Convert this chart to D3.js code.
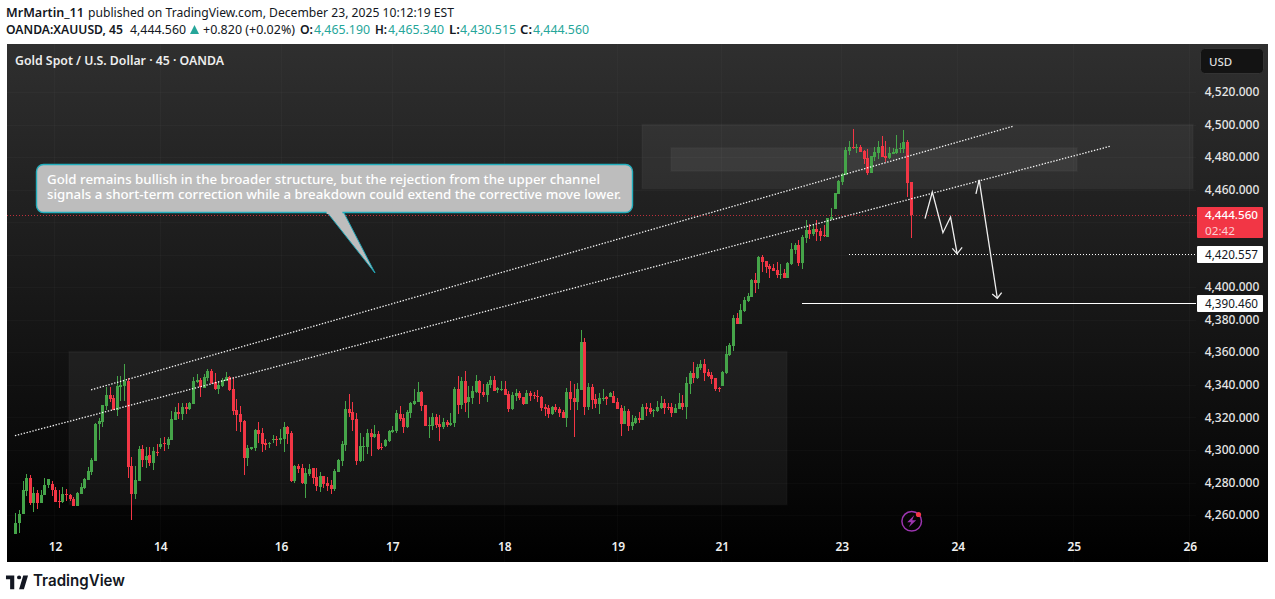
<!DOCTYPE html>
<html><head><meta charset="utf-8">
<script src="https://cdn.jsdelivr.net/npm/d3@7"></script>
<style>html,body{margin:0;padding:0;background:#fff;overflow:hidden}svg{display:block}</style>
</head><body><div id="chart"></div>
<script>
// Candle direction: G = close above open, R = close below open
const directions =
 "GGGGRGRGGG"+"RRRGRRRGGG"+"GGGGGGRRGG"+"GRRGGRGRGR"+"GRGGGRGRGG"+"GRGGRRGGGR"+"RRRRGGGRRR"+"GGRGGRRGRR"+
 "GGRRGRRRGG"+"GGRRRGGGRG"+"RRGGGGRRGG"+"GGRRGGRRGR"+"GGRGRGGGRR"+"GGRGGRRGGR"+"RGRRRRRRGR"+"RRGRRGGRGR"+
 "RGGRGRRRGR"+"GGRGRRGGGR"+"RRGGRGGRGG"+"RRRRRGGGGR"+"GGGGRGRRRR"+"RGRGGGRGGR"+"GRRRGGGGGG"+"GRGRRRGGGR"+"RGGGGGRR";
const bodyTops = [
4255.7,4261.1,4276.0,4283.1,4283.1,4273.9,4273.9,4272.9,4279.1,4282.7,
4279.7,4276.0,4269.2,4273.5,4273.5,4272.9,4270.5,4274.1,4277.8,4282.7,
4287.6,4294.4,4316.5,4318.3,4328.1,4334.3,4334.3,4332.4,4339.8,4340.4,
4342.9,4342.9,4290.7,4282.1,4301.1,4301.1,4296.8,4297.5,4299.9,4299.3,
4304.2,4304.8,4307.3,4319.5,4323.8,4323.8,4326.9,4326.9,4329.4,4342.9,
4343.5,4343.5,4345.3,4349.0,4349.0,4342.2,4340.4,4343.5,4345.3,4345.3,
4337.9,4325.1,4322.6,4318.3,4301.8,4302.4,4312.8,4312.8,4311.0,4304.8,
4304.8,4307.3,4307.3,4307.9,4314.6,4314.6,4311.0,4290.7,4290.7,4289.4,
4286.4,4288.8,4289.4,4283.9,4284.5,4284.5,4280.2,4279.0,4287.6,4294.4,
4304.2,4325.6,4325.6,4323.8,4319.5,4302.9,4302.9,4310.9,4310.9,4310.3,
4310.3,4302.3,4306.6,4312.1,4312.7,4323.2,4322.5,4320.1,4323.8,4329.3,
4330.5,4336.0,4336.0,4328.1,4315.8,4320.7,4320.7,4316.4,4317.6,4317.6,
4317.0,4337.9,4337.9,4342.8,4342.8,4333.0,4336.7,4342.8,4342.8,4336.0,
4340.9,4343.4,4343.4,4338.5,4337.9,4337.9,4334.8,4334.2,4335.4,4335.4,
4333.0,4335.4,4335.4,4334.2,4333.6,4333.0,4326.8,4326.2,4326.8,4326.8,
4325.6,4323.8,4336.0,4336.0,4332.4,4337.9,4366.7,4366.7,4339.1,4339.1,
4331.7,4332.4,4332.4,4333.0,4335.5,4333.7,4330.0,4326.3,4324.5,4324.5,
4317.7,4320.2,4320.2,4326.9,4326.9,4326.3,4325.1,4326.9,4329.4,4329.4,
4326.9,4326.9,4326.3,4329.4,4329.4,4341.6,4347.8,4347.8,4351.4,4353.3,
4353.3,4348.4,4346.5,4344.7,4338.6,4348.4,4359.4,4364.9,4381.5,4381.5,
4386.4,4392.5,4395.0,4404.8,4404.8,4418.9,4418.9,4416.4,4413.4,4412.1,
4410.9,4408.4,4409.0,4415.2,4423.8,4426.2,4426.2,4431.1,4435.4,4435.4,
4436.0,4436.0,4434.8,4432.4,4442.8,4443.4,4458.1,4465.5,4469.8,4484.5,
4486.3,4486.3,4486.3,4486.3,4483.9,4479.6,4480.8,4483.3,4486.3,4487.0,
4480.8,4482.7,4483.3,4485.1,4485.7,4489.4,4489.4,4465.19];
const bodyBottoms = [
4248.4,4255.3,4260.7,4275.4,4267.6,4267.6,4268.0,4268.0,4272.5,4279.1,
4276.0,4268.6,4268.6,4268.6,4272.9,4269.9,4266.2,4266.2,4273.5,4277.2,
4282.1,4287.0,4293.8,4316.3,4317.7,4327.5,4331.8,4325.1,4325.1,4339.2,
4339.8,4290.1,4273.5,4273.5,4281.5,4294.4,4294.4,4292.6,4292.6,4298.7,
4302.4,4304.2,4303.6,4306.7,4319.0,4322.6,4322.6,4325.7,4325.7,4328.8,
4342.2,4338.8,4338.6,4344.7,4341.6,4337.9,4337.9,4339.8,4342.9,4337.3,
4324.5,4322.0,4317.7,4295.6,4295.6,4301.1,4301.8,4310.3,4304.2,4303.6,
4304.2,4306.7,4306.7,4306.7,4307.3,4310.3,4281.5,4281.5,4288.9,4280.2,
4279.6,4285.8,4283.3,4278.4,4277.8,4279.6,4278.4,4276.6,4276.6,4287.0,
4293.7,4303.5,4323.2,4318.9,4293.7,4293.7,4302.3,4302.3,4308.4,4308.4,
4301.1,4301.7,4302.9,4306.0,4311.5,4312.1,4319.5,4314.6,4314.6,4323.2,
4328.7,4329.9,4327.5,4315.2,4315.2,4315.2,4315.8,4314.6,4314.6,4315.8,
4315.8,4317.0,4328.1,4328.1,4329.3,4329.9,4332.4,4336.0,4335.4,4334.2,
4334.2,4340.3,4336.7,4337.3,4337.3,4334.2,4325.6,4325.6,4333.6,4332.4,
4328.7,4328.7,4333.6,4333.6,4333.0,4326.2,4325.6,4322.5,4322.5,4325.0,
4323.2,4320.1,4320.1,4331.7,4329.9,4329.9,4337.3,4326.8,4326.8,4331.1,
4328.7,4328.7,4331.8,4331.8,4333.0,4329.4,4325.7,4316.5,4316.5,4315.3,
4315.3,4317.1,4319.0,4319.0,4325.7,4323.8,4324.5,4324.5,4326.3,4326.3,
4326.3,4323.2,4323.2,4325.7,4326.9,4326.9,4341.0,4344.7,4344.7,4350.8,
4347.8,4345.9,4344.1,4337.9,4337.9,4339.8,4347.8,4358.8,4364.3,4377.8,
4377.8,4385.8,4391.9,4394.4,4402.9,4402.9,4415.8,4412.8,4411.5,4410.3,
4407.9,4407.8,4406.0,4406.0,4414.6,4423.2,4415.2,4415.2,4430.5,4433.0,
4433.0,4434.2,4431.7,4431.7,4431.1,4442.2,4448.3,4457.5,4464.9,4469.2,
4483.9,4485.7,4485.7,4483.3,4479.0,4470.4,4470.4,4480.2,4482.7,4480.2,
4479.6,4479.6,4482.1,4482.7,4485.1,4485.1,4464.3,4444.56];
const highs = [
4261.3,4263.7,4281.5,4285.6,4285.0,4277.8,4276.0,4276.0,4283.3,4282.7,
4281.5,4277.8,4276.0,4277.8,4276.6,4273.3,4271.3,4274.8,4280.3,4283.3,
4290.1,4295.6,4317.1,4320.2,4328.1,4339.2,4339.2,4334.3,4345.9,4345.9,
4353.3,4344.7,4296.2,4290.7,4303.0,4303.6,4302.4,4302.4,4302.4,4304.2,
4307.9,4308.5,4308.5,4324.5,4326.9,4329.4,4329.4,4329.4,4330.0,4345.3,
4347.2,4344.7,4347.2,4350.2,4350.2,4347.8,4342.9,4344.7,4348.4,4345.9,
4345.3,4331.8,4327.5,4318.9,4303.6,4302.4,4313.4,4317.7,4314.0,4307.3,
4305.4,4309.7,4309.1,4313.4,4317.7,4315.3,4312.2,4291.3,4291.9,4291.9,
4289.4,4291.9,4289.4,4289.4,4287.0,4284.5,4283.9,4282.1,4288.8,4295.0,
4306.0,4330.5,4334.8,4329.9,4323.2,4310.9,4308.4,4313.3,4313.3,4315.8,
4312.1,4304.8,4307.2,4312.7,4315.2,4325.0,4327.5,4322.5,4325.0,4329.9,
4337.9,4342.2,4336.7,4328.1,4320.7,4323.2,4322.5,4321.9,4320.1,4318.9,
4323.2,4339.1,4345.9,4345.2,4348.9,4339.7,4339.7,4346.5,4343.4,4340.9,
4342.2,4345.9,4345.9,4339.1,4342.8,4342.8,4336.7,4336.0,4337.9,4336.7,
4333.0,4337.3,4336.7,4336.0,4337.3,4333.6,4328.7,4328.1,4327.5,4328.7,
4326.8,4325.0,4338.5,4342.8,4340.9,4341.6,4374.1,4369.2,4341.6,4340.9,
4334.8,4335.5,4337.9,4333.7,4336.1,4336.7,4332.4,4328.1,4327.5,4325.7,
4322.0,4321.4,4323.8,4328.7,4329.4,4329.4,4325.7,4330.6,4333.7,4331.8,
4329.4,4329.4,4328.8,4335.5,4334.3,4345.3,4349.0,4354.5,4353.3,4355.7,
4356.4,4350.2,4348.4,4344.7,4339.2,4349.0,4364.3,4366.2,4383.3,4384.5,
4390.1,4394.4,4396.8,4405.4,4409.1,4419.5,4420.1,4416.4,4414.6,4414.6,
4415.8,4414.6,4411.5,4415.8,4427.5,4427.5,4429.3,4432.4,4441.6,4439.1,
4439.1,4441.6,4436.7,4438.5,4442.8,4448.9,4458.1,4466.1,4470.4,4486.3,
4490.0,4497.4,4488.2,4487.6,4484.5,4485.1,4480.8,4486.3,4490.0,4493.1,
4490.0,4486.3,4485.7,4493.7,4488.8,4496.8,4490.6,4465.34];
const lows = [
4248.4,4249.6,4260.7,4272.3,4266.8,4262.5,4264.3,4268.0,4272.5,4277.2,
4272.3,4268.6,4264.5,4268.0,4269.2,4268.8,4266.2,4265.6,4273.5,4276.6,
4282.1,4285.2,4293.8,4306.7,4314.6,4325.1,4330.0,4324.7,4321.4,4330.6,
4330.6,4283.3,4257.0,4270.5,4281.5,4290.1,4289.5,4290.7,4288.3,4296.8,
4301.1,4299.9,4301.1,4306.7,4319.0,4319.5,4319.0,4322.6,4325.1,4328.8,
4341.6,4333.0,4338.6,4342.9,4341.0,4337.3,4334.9,4339.2,4342.9,4336.7,
4322.0,4312.2,4311.6,4285.2,4290.7,4300.5,4299.9,4304.8,4299.3,4300.5,
4301.8,4304.8,4303.0,4304.2,4299.3,4304.2,4280.9,4280.3,4286.4,4279.6,
4271.0,4284.5,4279.6,4275.3,4274.7,4277.2,4275.3,4273.5,4275.3,4287.0,
4290.7,4299.8,4320.7,4312.1,4291.3,4293.1,4293.7,4298.0,4296.8,4307.8,
4300.5,4300.5,4302.3,4305.4,4310.9,4310.9,4318.2,4310.9,4314.0,4320.1,
4328.1,4329.9,4324.4,4315.2,4307.8,4312.7,4314.0,4306.0,4313.3,4314.6,
4315.2,4314.6,4322.5,4325.6,4323.8,4320.1,4328.7,4335.4,4328.7,4333.0,
4329.9,4338.5,4336.7,4335.4,4336.7,4334.2,4323.8,4325.0,4330.5,4331.1,
4328.1,4328.7,4330.5,4331.7,4329.9,4324.4,4321.3,4320.1,4321.9,4323.8,
4320.7,4320.1,4314.6,4325.0,4308.4,4325.0,4337.3,4321.9,4325.0,4325.6,
4326.2,4322.6,4330.6,4328.1,4333.0,4329.4,4325.7,4309.1,4316.5,4312.2,
4312.8,4316.5,4317.1,4319.0,4321.4,4322.6,4320.8,4323.8,4325.7,4322.6,
4325.1,4320.8,4323.2,4325.7,4325.1,4319.5,4334.9,4341.6,4344.1,4349.6,
4342.9,4345.3,4341.0,4336.7,4336.1,4339.8,4347.2,4358.2,4361.2,4377.8,
4377.8,4385.2,4391.3,4394.4,4396.8,4399.3,4409.7,4409.1,4406.0,4410.3,
4406.0,4405.4,4406.0,4406.0,4414.0,4420.7,4413.3,4411.5,4427.5,4429.9,
4431.7,4428.7,4428.7,4431.1,4431.1,4441.6,4448.3,4457.5,4463.0,4469.2,
4481.4,4485.1,4482.7,4483.3,4475.9,4469.2,4470.4,4477.8,4479.0,4480.2,
4477.1,4479.0,4482.1,4482.1,4482.7,4482.7,4455.7,4430.515];

const priceTicks = [4260,4280,4300,4320,4340,4360,4380,4400,4460,4480,4500,4520];
const gridPrices = [4260,4280,4300,4320,4340,4360,4380,4400,4420,4440,4460,4480,4500,4520];
const timeTickBars = [10.95,40.0,73.3,104.0,134.9,166.2,194.9,228.0,260.0,292.0,324.0];
const timeTickLabels = ["12","14","16","17","18","19","21","23","24","25","26"];

// Price and bar-index anchors of the drawings
const zoneBars = [[14.8,212.9],[172.9,324.9],[180.9,292.9]];
const zonePrices = [[4360.9,4266.7],[4500.4,4460.9],[4486.1,4471.7]];
const trendBars = [[20.9,275.2],[-0.1,302.0]];
const trendPrices = [[4337.3,4499.3],[4309.1,4487.0]];
const lastPrice = 4444.56, target1 = 4420.557, target2 = 4390.46;
const target1StartBar = 229.9, target2StartBar = 216.9;
const arrow1Bars = [250.95,252.97,255.9,258.0,259.8], arrow1Prices = [4442.5,4458.9,4433.9,4443.5,4421.2];
const arrow1HeadBars = [258.5,259.8,261.2], arrow1HeadPrices = [4424.3,4420.9,4424.9];
const arrow2Bars = [265.0,265.9,270.9], arrow2Prices = [4457.7,4466.3,4393.6];
const arrow2HeadBars = [269.5,270.9,272.1], arrow2HeadPrices = [4396.2,4393.6,4397.0];

const W=1275,H=599;
const panel={l:7,t:44,r:1268,b:562}, plotR=1196;
const x=d3.scaleLinear().domain([0,247]).range([15.3,15.3+247*3.625]);
const y=d3.scaleLinear().domain([4260,4520]).range([515.6,92.6]);

const svg=d3.select("#chart").append("svg").attr("width",W).attr("height",H).attr("viewBox",`0 0 ${W} ${H}`);
const defs=svg.append("defs");
const grad=defs.append("linearGradient").attr("id","bg").attr("x1",0).attr("y1",0).attr("x2",0).attr("y2",1);
grad.append("stop").attr("offset","0").attr("stop-color","#2f2f2f");
grad.append("stop").attr("offset","1").attr("stop-color","#000");
defs.append("clipPath").attr("id","plot").append("rect").attr("x",panel.l).attr("y",panel.t).attr("width",plotR-panel.l).attr("height",panel.b-panel.t);

svg.append("rect").attr("width",W).attr("height",H).attr("fill","#fff");
svg.append("rect").attr("x",panel.l).attr("y",panel.t).attr("width",panel.r-panel.l).attr("height",panel.b-panel.t).attr("fill","url(#bg)");

const FONT="'Noto Sans',sans-serif";
function label(g,str,px,py,o={}){
  const t=g.append("text").attr("x",px).attr("y",py).text(str)
    .attr("font-family",o.font||FONT).attr("font-size",o.size||12).attr("fill",o.fill||"#131722")
    .attr("font-weight",o.weight||400).attr("dominant-baseline","central");
  if(o.anchor)t.attr("text-anchor",o.anchor);
  if(o.len)t.attr("textLength",o.len).attr("lengthAdjust","spacingAndGlyphs");
  return t;
}
// header
const head=svg.append("g");
label(head,"MrMartin_11",6,12.7,{weight:600,len:78});
label(head,"published on TradingView.com, December 23, 2025 10:12:19 EST",88,12.7,{len:366});
label(head,"OANDA:XAUUSD, 45",6,29.3,{weight:600,len:117});
label(head,"4,444.560",130,29.3,{len:56});
head.append("path").attr("d",d3.line()([[190,34],[194.5,25],[199,34]])+"Z").attr("fill","#26a69a");
label(head,"+0.820 (+0.02%)",203,29.3,{len:92});
const TEAL="#26a69a";
[["O:",300,13,"4,465.190",314],["H:",375,12,"4,465.340",388],["L:",449,11,"4,430.515",460],["C:",520,12,"4,444.560",533]]
 .forEach(d=>{label(head,d[0],d[1],29.3,{weight:600,len:d[2]});label(head,d[3],d[4],29.3,{fill:TEAL,len:56});});

// grid
const grid=svg.append("g").attr("stroke","#fff").attr("stroke-opacity",.025).attr("shape-rendering","crispEdges");
grid.selectAll("line.h").data(gridPrices).join("line").attr("class","h").attr("x1",panel.l).attr("x2",plotR).attr("y1",d=>y(d)).attr("y2",d=>y(d));
grid.selectAll("line.v").data(timeTickBars).join("line").attr("class","v").attr("x1",d=>x(d)).attr("x2",d=>x(d)).attr("y1",panel.t).attr("y2",panel.b);

// zones
const plot=svg.append("g").attr("clip-path","url(#plot)");
plot.selectAll("rect.zone").data(d3.range(zoneBars.length)).join("rect").attr("class","zone")
  .attr("x",i=>x(zoneBars[i][0])).attr("width",i=>x(zoneBars[i][1])-x(zoneBars[i][0]))
  .attr("y",i=>y(zonePrices[i][0])).attr("height",i=>y(zonePrices[i][1])-y(zonePrices[i][0]))
  .attr("fill","#fff").attr("fill-opacity",i=>i==0?.055:.055).attr("stroke","#fff").attr("stroke-opacity",.02).attr("stroke-width",2);

// candles
const rows=d3.range(bodyTops.length).map(i=>{
  const up=directions[i]==="G";
  return {i,open:up?bodyBottoms[i]:bodyTops[i],close:up?bodyTops[i]:bodyBottoms[i],high:highs[i],low:lows[i],up};
});
const UP="#45a449",DOWN="#f23645";
const cg=plot.append("g").attr("shape-rendering","crispEdges");
cg.selectAll("rect.wick").data(rows).join("rect").attr("class","wick")
  .attr("x",d=>Math.round(x(d.i))).attr("width",1)
  .attr("y",d=>y(d.high)).attr("height",d=>Math.max(1,y(d.low)-y(d.high)))
  .attr("fill",d=>d.up?UP:DOWN);
cg.selectAll("rect.body").data(rows).join("rect").attr("class","body")
  .attr("x",d=>Math.round(x(d.i))-1).attr("width",3)
  .attr("y",d=>y(Math.max(d.open,d.close))).attr("height",d=>Math.max(1,Math.abs(y(d.open)-y(d.close))))
  .attr("fill",d=>d.up?UP:DOWN);

// trend lines
plot.selectAll("line.trend").data([0,1]).join("line").attr("class","trend")
  .attr("x1",i=>x(trendBars[i][0])).attr("x2",i=>x(trendBars[i][1]))
  .attr("y1",i=>y(trendPrices[i][0])).attr("y2",i=>y(trendPrices[i][1]))
  .attr("stroke","#fff").attr("stroke-opacity",.95).attr("stroke-width",1.3).attr("stroke-dasharray","1.4 1.6");

// horizontal levels
svg.append("line").attr("x1",panel.l).attr("x2",plotR).attr("y1",y(lastPrice)).attr("y2",y(lastPrice))
  .attr("stroke",DOWN).attr("stroke-opacity",.75).attr("stroke-dasharray","1 2").attr("shape-rendering","crispEdges");
svg.append("line").attr("x1",x(target1StartBar)).attr("x2",plotR).attr("y1",y(target1)).attr("y2",y(target1))
  .attr("stroke","#fff").attr("stroke-dasharray","1 2").attr("shape-rendering","crispEdges");
svg.append("line").attr("x1",x(target2StartBar)).attr("x2",plotR).attr("y1",y(target2)).attr("y2",y(target2))
  .attr("stroke","#fff").attr("shape-rendering","crispEdges");

// arrows
const pl=d3.line().x(d=>x(d[0])).y(d=>y(d[1]));
[[arrow1Bars,arrow1Prices],[arrow1HeadBars,arrow1HeadPrices],[arrow2Bars,arrow2Prices],[arrow2HeadBars,arrow2HeadPrices]].forEach(([b,p])=>{
  svg.append("path").attr("d",pl(b.map((v,i)=>[v,p[i]]))).attr("fill","none").attr("stroke","#eee").attr("stroke-width",1.3);
});

// callout
const callout=svg.append("g");
callout.append("path").attr("d","M326 211 L375 273 L343 211 Z").attr("fill","#bdbdbd").attr("stroke","#1fa3b3").attr("stroke-width",1);
callout.append("rect").attr("x",36.5).attr("y",164.5).attr("width",596).attr("height",48).attr("rx",7).attr("fill","#bdbdbd").attr("stroke","#22aebd").attr("stroke-width",1.4);
callout.append("rect").attr("x",326.6).attr("y",209).attr("width",15.8).attr("height",5).attr("fill","#bdbdbd");
label(callout,"Gold remains bullish in the broader structure, but the rejection from the upper channel",47,179.5,{fill:"#fff",size:12.5,weight:500,len:553});
label(callout,"signals a short-term correction while a breakdown could extend the corrective move lower.",47,194.5,{fill:"#fff",size:12.5,weight:500,len:574});

// title
label(svg,"Gold Spot / U.S. Dollar · 45 · OANDA",15,60.5,{fill:"#ededed",weight:600,len:209});

// axes
const yAxis=svg.append("g").attr("transform","translate(1232,-0.8)")
  .call(d3.axisRight(y).tickValues(priceTicks).tickFormat(d3.format(",.3f")).tickSize(0).tickPadding(0));
yAxis.select(".domain").remove();
yAxis.selectAll("text").attr("text-anchor","middle").attr("font-family",FONT).attr("font-size",12).attr("fill","#e6e6e6").attr("font-weight",500);
const xAxis=svg.append("g").attr("transform","translate(0,547.5)")
  .call(d3.axisBottom(x).tickValues(timeTickBars).tickFormat((d,i)=>timeTickLabels[i]).tickSize(0).tickPadding(0));
xAxis.select(".domain").remove();
xAxis.selectAll("text").attr("dy",".32em").attr("font-family",FONT).attr("font-size",12).attr("fill","#f0f0f0").attr("font-weight",600);

// USD box
svg.append("rect").attr("x",1200.5).attr("y",48.5).attr("width",63).attr("height",25).attr("rx",4).attr("fill","#131313").attr("stroke","#333");
label(svg,"USD",1209,61.5,{fill:"#dedede",size:11.5,weight:500});

// price labels
svg.append("rect").attr("x",1197).attr("y",207).attr("width",66).attr("height",31).attr("rx",1).attr("fill",DOWN);
label(svg,"4,444.560",1205,214,{fill:"#fff",size:11.5,weight:500,len:53});
label(svg,"02:42",1205,230,{fill:"#fbd0d4",size:11.5,len:30});
[[target1],[target2]].forEach(([p])=>{
  svg.append("rect").attr("x",1197).attr("y",y(p)-8.3).attr("width",66).attr("height",17).attr("rx",1).attr("fill","#fff");
  label(svg,d3.format(",.3f")(p),1205,y(p),{fill:"#131722",len:53});
});

// lightning icon
const ic=svg.append("g").attr("transform","translate(911.7,521.3)");
ic.append("circle").attr("r",9.8).attr("fill","none").attr("stroke","#9c35b0").attr("stroke-width",1.5);
ic.append("path").attr("d","M2.5 -6 L-4.5 1 L-0.5 1 L-3 6 L4.5 -1 L0.5 -1 Z").attr("fill","#9c35b0");
ic.append("circle").attr("cx",6.8).attr("cy",-6.8).attr("r",2.6).attr("fill",DOWN);

// logo
svg.append("path").attr("transform","translate(4.6,571.9) scale(0.69,0.62)")
  .attr("d","M14 6H2v6h6v16h6V6Zm14 22h-7l6-22h7l-6 22Zm-7-16a3 3 0 1 0 0-6 3 3 0 0 0 0 6Z").attr("fill","#131722");
label(svg,"TradingView",33,580.5,{font:"Inter,sans-serif",size:15.5,weight:600,fill:"#131722",len:92});
</script></body></html>
